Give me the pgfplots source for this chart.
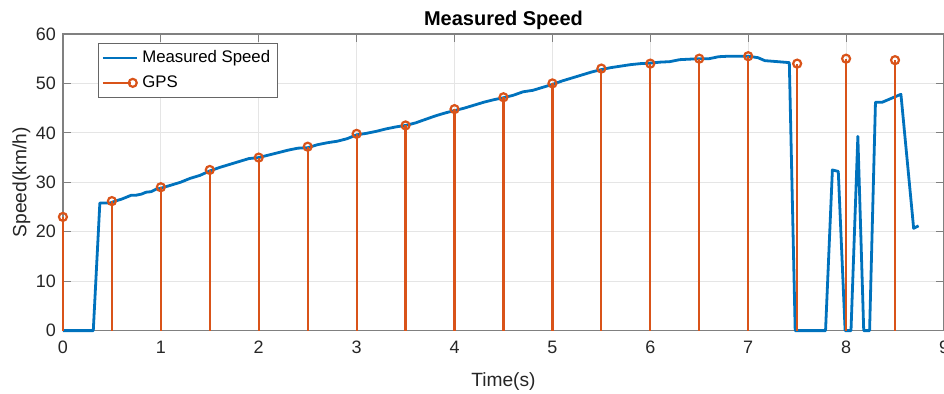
\documentclass[border=0pt]{standalone}
\usepackage{pgfplots}
\pgfplotsset{compat=1.18}
\usepackage{fontspec}
\setmainfont{Liberation Sans}
\definecolor{mblue}{RGB}{0,114,189}
\definecolor{morange}{RGB}{217,83,25}
\definecolor{tickgray}{RGB}{38,38,38}
\begin{document}
\begin{tikzpicture}
\begin{axis}[
  set layers,
  clip=false,
  scale only axis,
  width=441pt, height=148.5pt,
  xmin=0, xmax=9, ymin=0, ymax=60,
  xtick={0,1,...,9}, ytick={0,10,...,60},
  tick align=inside,
  major tick length=4pt,
  xtick pos=both, ytick pos=both,
  axis line style={black!50, line width=0.6pt},
  tick style={black!50, line width=0.6pt},
  grid=major,
  major grid style={black!10, line width=0.6pt},
  /pgf/number format/assume math mode=true,
  ticklabel style={font=\fontsize{9}{10}\selectfont, text=tickgray},
  xticklabel style={yshift=-1.5pt},
  title={Measured Speed},
  title style={font=\bfseries\fontsize{10}{12}\selectfont, at={(axis description cs:0.5,1)}, anchor=base, yshift=-2pt},
  xlabel={Time(s)},
  ylabel={Speed(km/h)},
  xlabel style={font=\fontsize{9.6}{11}\selectfont, text=tickgray, at={(axis description cs:0.5,-0.172)}, anchor=center},
  ylabel style={font=\fontsize{9.6}{11}\selectfont, text=tickgray, at={(axis description cs:-0.047,0.5)}, anchor=center, rotate=0},
  legend style={at={(axis description cs:0.0397,0.970)}, anchor=north west,
    font=\fontsize{8.4}{10}\selectfont, draw=black!60, line width=0.5pt,
    inner sep=1.5pt, row sep=1pt, cells={anchor=west}},
  legend cell align=left,
]
\addplot[mblue, line width=1.4pt, line join=round] coordinates {
(0,0) (0.31,0) (0.377,25.8) (0.48,25.8) (0.55,26.3) (0.6,26.6) (0.65,27.0) (0.7,27.4) (0.75,27.4) (0.8,27.6)
(0.85,28.0) (0.9,28.1) (0.95,28.6) (1.0,28.8) (1.1,29.4) (1.2,30.0) (1.3,30.8) (1.4,31.4) (1.5,32.3)
(1.6,33.0) (1.7,33.6) (1.8,34.2) (1.9,34.8) (2.0,35.0) (2.1,35.5) (2.2,36.0) (2.3,36.5) (2.4,36.9)
(2.5,37.0) (2.6,37.6) (2.7,38.0) (2.8,38.3) (2.9,38.8) (3.0,39.6) (3.1,39.9) (3.2,40.3) (3.3,40.8)
(3.4,41.2) (3.5,41.5) (3.6,42.0) (3.7,42.7) (3.8,43.4) (3.9,44.0) (4.0,44.5) (4.1,45.0) (4.2,45.6)
(4.3,46.2) (4.4,46.7) (4.5,47.1) (4.6,47.6) (4.7,48.3) (4.8,48.6) (4.9,49.2) (5.0,49.8) (5.1,50.5)
(5.2,51.1) (5.3,51.7) (5.4,52.3) (5.5,52.8) (5.6,53.2) (5.7,53.5) (5.8,53.8) (5.9,54.0) (6.0,54.1)
(6.1,54.3) (6.2,54.4) (6.3,54.8) (6.4,54.9) (6.5,55.0) (6.6,55.0) (6.7,55.4) (6.8,55.5) (6.9,55.5)
(7.0,55.5) (7.1,55.2) (7.17,54.6) (7.3,54.4) (7.42,54.2) (7.48,0) (7.79,0) (7.86,32.5) (7.92,32.2)
(7.99,0) (8.05,0) (8.12,39.3) (8.18,0) (8.24,0) (8.30,46.2) (8.37,46.2) (8.56,47.8) (8.69,20.7) (8.74,21.2)
};
\addlegendentry{Measured Speed}
\addplot[morange, line width=1.1pt, ycomb, mark=o, mark size=2pt, mark options={line width=1.1pt},
  on layer=axis foreground,
  legend image code/.code={
    \draw[morange, line width=1.1pt] (0pt,0pt) -- (14pt,0pt);
    \draw[morange, line width=1.1pt] (15pt,0pt) circle (2pt);
  }] coordinates {
(0,23) (0.5,26.2) (1,29) (1.5,32.5) (2,35) (2.5,37.2) (3,39.8) (3.5,41.5) (4,44.8)
(4.5,47.2) (5,50) (5.5,53) (6,54) (6.5,55) (7,55.5) (7.5,54) (8,55) (8.5,54.7)
};
\addlegendentry{GPS}
\end{axis}
\pgfresetboundingbox
\path ([shift={(-31.5pt,-31.5pt)}]current axis.south west) rectangle ([shift={(0pt,17pt)}]current axis.north east);
\end{tikzpicture}
\end{document}
